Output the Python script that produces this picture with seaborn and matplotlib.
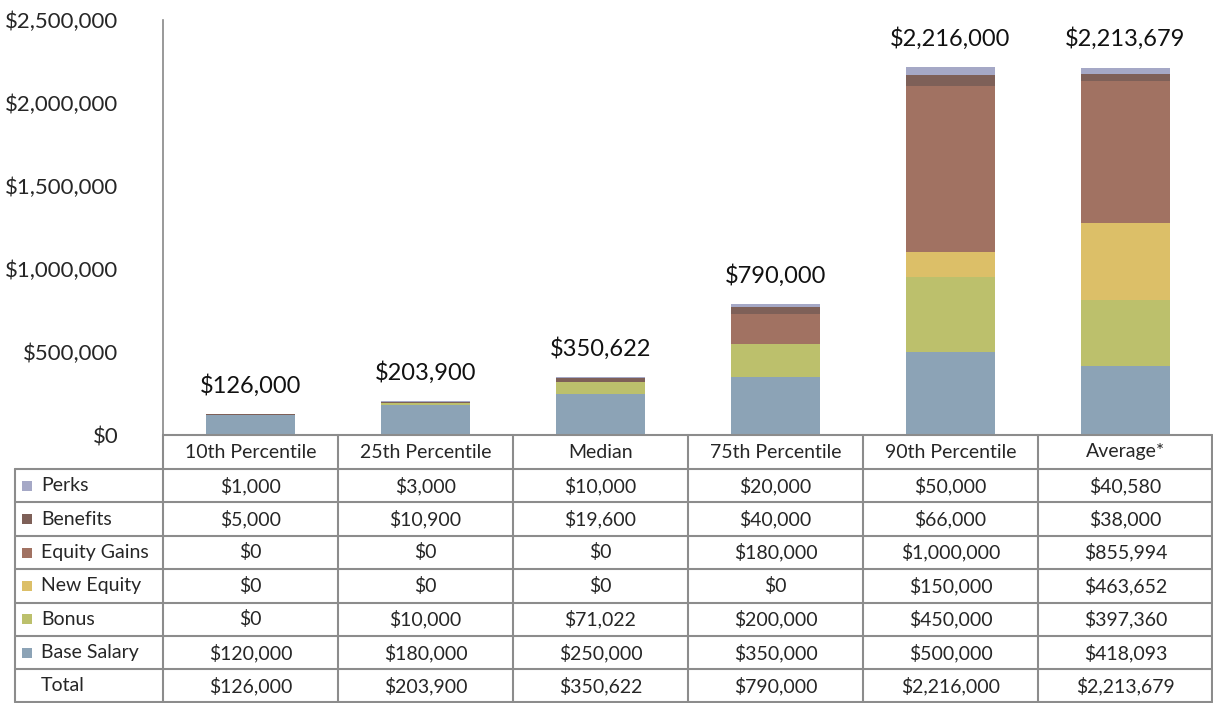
import numpy as np
import pandas as pd
import seaborn as sns
import matplotlib.pyplot as plt

# data
groups = ["10th Percentile", "25th Percentile", "Median", "75th Percentile", "90th Percentile", "Average*"]
components = ["Perks", "Benefits", "Equity Gains", "New Equity", "Bonus", "Base Salary"]
perks = [1000, 3000, 10000, 20000, 50000, 40580]
benefits = [5000, 10900, 19600, 40000, 66000, 38000]
equity_gains = [0, 0, 0, 180000, 1000000, 855994]
new_equity = [0, 0, 0, 0, 150000, 463652]
bonus = [0, 10000, 71022, 200000, 450000, 397360]
base_salary = [120000, 180000, 250000, 350000, 500000, 418093]
totals = [126000, 203900, 350622, 790000, 2216000, 2213679]

colors = {
    "Perks": "#a5a8c6",
    "Benefits": "#7e6058",
    "Equity Gains": "#a17262",
    "New Equity": "#dcbf68",
    "Bonus": "#bcc06c",
    "Base Salary": "#8ca3b6",
}

df = pd.DataFrame({
    "group": groups,
    "Perks": perks,
    "Benefits": benefits,
    "Equity Gains": equity_gains,
    "New Equity": new_equity,
    "Bonus": bonus,
    "Base Salary": base_salary,
})

sns.set_style("white")
plt.rcParams["font.family"] = ["Lato", "DejaVu Sans"]

W, H = 1213, 703
fig = plt.figure(figsize=(W / 100, H / 100), dpi=100)
x0, x1, ytop, ybot = 163, 1213, 20, 435
ax = fig.add_axes([x0 / W, 1 - ybot / H, (x1 - x0) / W, (ybot - ytop) / H])

# stacked bars: draw cumulative heights from the top layer down
order = ["Base Salary", "Bonus", "New Equity", "Equity Gains", "Benefits", "Perks"]
cum = df[order].cumsum(axis=1)
for comp in reversed(order):
    sns.barplot(x=df["group"], y=cum[comp], color=colors[comp], width=0.51,
                saturation=1, linewidth=0, ax=ax, order=groups)

for i, t in enumerate(totals):
    ax.text(i, t + 105000, f"${t:,.0f}", ha="center", va="bottom", fontsize=17, color="#111")

ax.set_xlim(-0.5, 5.5)
ax.set_ylim(0, 2500000)
ticks = np.arange(0, 2500001, 500000)
ax.set_yticks(ticks)
ax.set_yticklabels([f"${v:,.0f}" for v in ticks], fontsize=16)
ax.set_xticks([])
ax.set_xlabel("")
ax.set_ylabel("")
ax.tick_params(axis="y", length=0, pad=32)
for s in ["top", "right", "bottom"]:
    ax.spines[s].set_visible(False)
ax.spines["left"].set_color("#888888")
ax.spines["left"].set_linewidth(1.2)

# data table drawn underneath in pixel coords
tb = fig.add_axes([0, 0, 1, 1], facecolor="none")
tb.set_xlim(0, W)
tb.set_ylim(H, 0)
tb.axis("off")
lc = "#8c8c8c"
col_x = [163 + 175 * k for k in range(7)]
row_h = 33.4
y_head = 435
y_rows = [469 + row_h * k for k in range(8)]
y_rows[-1] = 702

tb.plot([163, 1212], [y_head, y_head], color=lc, lw=1.5)
for y in y_rows:
    tb.plot([15, 1212], [y, y], color=lc, lw=1.5)
tb.plot([15, 15], [y_rows[0], y_rows[-1]], color=lc, lw=1.5)
for cx in col_x:
    xx = min(cx, 1212)
    tb.plot([xx, xx], [y_head, y_rows[-1]], color=lc, lw=1.5)

for j, g in enumerate(groups):
    tb.text((col_x[j] + col_x[j + 1]) / 2, y_head + 17, g, ha="center", va="center", fontsize=14)

row_names = components + ["Total"]
for r, name in enumerate(row_names):
    yc = (y_rows[r] + y_rows[r + 1]) / 2
    if name in colors:
        tb.add_patch(plt.Rectangle((22, yc - 5), 10, 10, color=colors[name], lw=0))
    tb.text(41, yc, name, ha="left", va="center", fontsize=14)
    vals = totals if name == "Total" else df[name].tolist()
    for j, v in enumerate(vals):
        tb.text((col_x[j] + col_x[j + 1]) / 2, yc, f"${v:,.0f}", ha="center", va="center", fontsize=14)

fig.savefig("out.png", dpi=100)
